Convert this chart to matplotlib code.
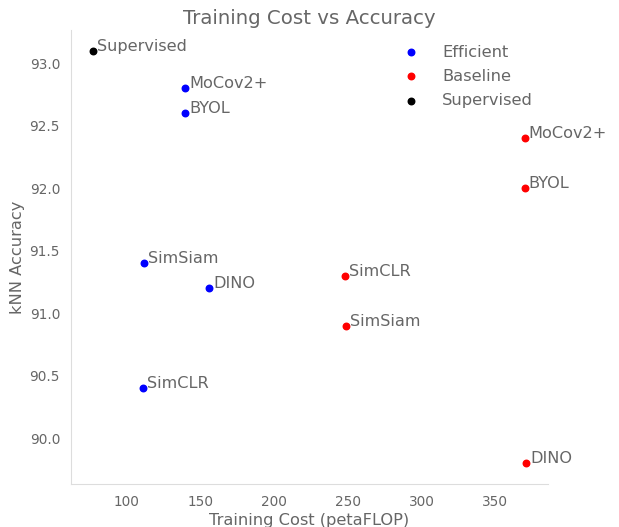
import matplotlib
matplotlib.use("Agg")
import matplotlib.pyplot as plt

# data
eff_names = ["MoCov2+", "BYOL", "SimSiam", "DINO", "SimCLR"]
eff_cost = [139.5, 139.5, 111.5, 156, 111]
eff_acc = [92.8, 92.6, 91.4, 91.2, 90.4]

base_names = ["MoCov2+", "BYOL", "SimCLR", "SimSiam", "DINO"]
base_cost = [370, 370, 248, 248.5, 371]
base_acc = [92.4, 92.0, 91.3, 90.9, 89.8]

sup_names = ["Supervised"]
sup_cost = [77]
sup_acc = [93.1]

text_col = "#666666"

fig, ax = plt.subplots(figsize=(6.19, 5.27), dpi=100)
fig.subplots_adjust(left=0.115, right=0.885, top=0.943, bottom=0.082)

ax.scatter(eff_cost, eff_acc, color="blue", s=22, label="Efficient", zorder=3)
ax.scatter(base_cost, base_acc, color="red", s=22, label="Baseline", zorder=3)
ax.scatter(sup_cost, sup_acc, color="black", s=22, label="Supervised", zorder=3)

for names, xs, ys in [(eff_names, eff_cost, eff_acc),
                      (base_names, base_cost, base_acc),
                      (sup_names, sup_cost, sup_acc)]:
    for n, x, y in zip(names, xs, ys):
        ax.annotate(n, (x, y), xytext=(3, 0), textcoords="offset points",
                    fontsize=11.6, color=text_col)

ax.set_title("Training Cost vs Accuracy", fontsize=14.2, color=text_col, pad=4)
ax.set_xlabel("Training Cost (petaFLOP)", fontsize=11.7, color=text_col, labelpad=3)
ax.set_ylabel("kNN Accuracy", fontsize=11.7, color=text_col, labelpad=3)
ax.set_xticks([100, 150, 200, 250, 300, 350])
ax.set_yticks([90.0, 90.5, 91.0, 91.5, 92.0, 92.5, 93.0])
ax.tick_params(length=0, labelsize=9.8, labelcolor=text_col, pad=8)

for s in ["top", "right"]:
    ax.spines[s].set_visible(False)
for s in ["left", "bottom"]:
    ax.spines[s].set_color("#dddddd")

leg = ax.legend(loc="upper right", frameon=False, fontsize=11.7,
                handletextpad=0.9, labelspacing=0.56, borderaxespad=0.5)
for t in leg.get_texts():
    t.set_color(text_col)

plt.savefig("out.png", dpi=100)
